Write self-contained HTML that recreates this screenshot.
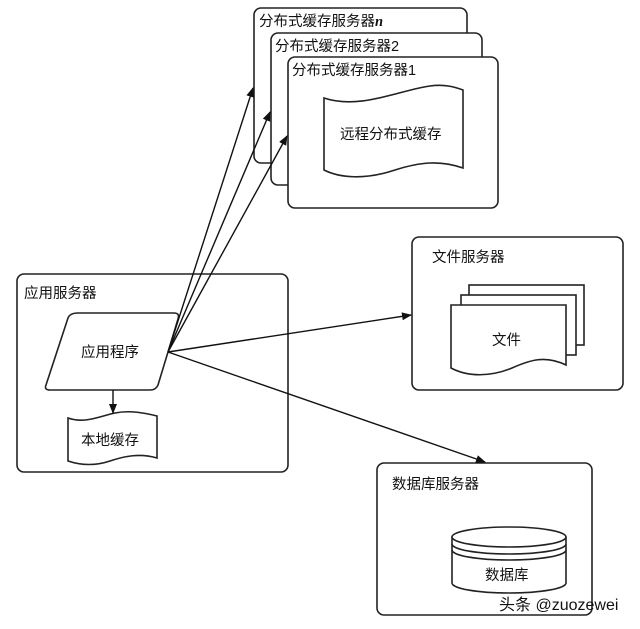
<!DOCTYPE html>
<html><head><meta charset="utf-8"><style>
body{margin:0;background:#fff;}
svg{display:block}
text{font-family:"Liberation Sans","Noto Sans CJK SC",sans-serif;fill:#111;}
</style></head><body>
<svg width="640" height="629" viewBox="0 0 640 629" xmlns="http://www.w3.org/2000/svg">
<defs><marker id="a" markerWidth="10" markerHeight="8" refX="9" refY="4" orient="auto" markerUnits="userSpaceOnUse"><path d="M0,0 L10,4 L0,8 z" fill="#111"/></marker></defs>
<g fill="#fff" stroke="#222" stroke-width="1.6">
<rect x="254" y="8" width="213" height="155" rx="7"/>
<rect x="271" y="33" width="211" height="152" rx="7"/>
<rect x="288" y="57" width="210" height="151" rx="7"/>
<path d="M324,98 C360,110 400,90 430,86 C445,84 455,87 463,90 L463,168 C440,160 420,162 395,170 C365,180 340,178 324,170 Z"/>
<rect x="17" y="274" width="271" height="198" rx="7"/>
<path d="M78,313 L174,313 Q180,313 178,319 L158,385 Q156,390 150,390 L50,390 Q44,390 46,385 L68,318 Q70,313 78,313 Z"/>
<path d="M68,418 C85,424 100,416 115,413 C130,410 145,413 157,416 L157,458 C140,453 125,456 110,461 C95,466 80,465 68,461 Z"/>
<rect x="412" y="237" width="211" height="153" rx="7"/>
<rect x="469" y="285" width="115" height="60"/>
<rect x="461" y="295" width="115" height="60"/>
<path d="M451,305 L566,305 L566,365 C545,355 530,360 512,368 C490,377 468,377 451,368 Z"/>
<rect x="377" y="463" width="215" height="152" rx="7"/>
<path d="M452,537 L452,583 A57,10 0 0 0 566,583 L566,537"/>
<ellipse cx="509" cy="537" rx="57" ry="10"/>
<path d="M452,544 A57,10 0 0 0 566,544 M452,550 A57,10 0 0 0 566,550" fill="none"/>
</g>
<g stroke="#111" stroke-width="1.4" fill="none" marker-end="url(#a)">
<line x1="168" y1="352" x2="253" y2="88"/>
<line x1="168" y1="352" x2="270" y2="112"/>
<line x1="168" y1="352" x2="287" y2="136"/>
<line x1="168" y1="352" x2="411" y2="315"/>
<line x1="168" y1="352" x2="485" y2="462"/>
<line x1="113" y1="390" x2="113" y2="413"/>
</g>
<g font-size="14.5">
<text x="259" y="26">分布式缓存服务器<tspan font-style="italic" font-weight="bold" font-family="Liberation Serif">n</tspan></text>
<text x="275" y="51">分布式缓存服务器2</text>
<text x="292" y="75">分布式缓存服务器1</text>
<text x="340" y="139">远程分布式缓存</text>
<text x="24" y="298">应用服务器</text>
<text x="81" y="357">应用程序</text>
<text x="81" y="445">本地缓存</text>
<text x="432" y="262">文件服务器</text>
<text x="492" y="345">文件</text>
<text x="392" y="489">数据库服务器</text>
<text x="485" y="580">数据库</text>
</g>
<text x="499" y="610" font-size="16" fill="#222">头条 @zuozewei</text>
</svg>
</body></html>
